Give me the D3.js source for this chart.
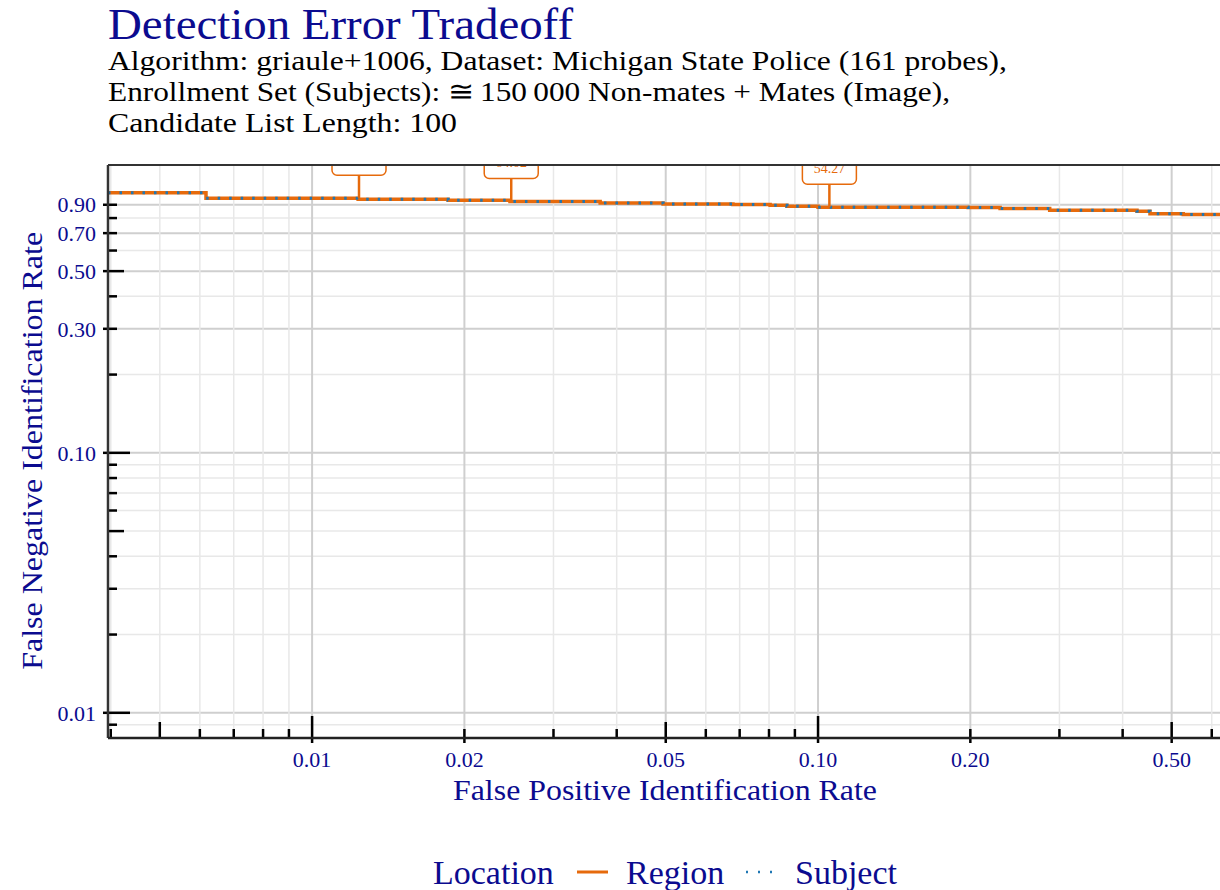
<!DOCTYPE html>
<html>
<head>
<meta charset="utf-8">
<script src="https://cdn.jsdelivr.net/npm/d3@7"></script>
<style>
  body { margin: 0; background: #fff; }
  text { font-family: "Liberation Serif", "DejaVu Serif", serif; }
</style>
</head>
<body>
<svg width="1220" height="890"></svg>
<script>
// FPIR where each step starts, and FNIR held until the next FPIR
let fpir = [0.00395, 0.00617, 0.01233, 0.01857, 0.02461, 0.0371, 0.0494, 0.0679, 0.0804, 0.0868, 0.100, 0.198, 0.229, 0.287, 0.427, 0.453, 0.527, 0.623]
let fnir = [1.0, 0.954, 0.946, 0.937, 0.927, 0.915, 0.907, 0.902, 0.897, 0.889, 0.881, 0.878, 0.870, 0.858, 0.850, 0.832, 0.825, 0.825]

// threshold labels
let thrFpir = [0.01238, 0.02475, 0.1053]
let thrFnir = [0.954, 0.927, 0.881]
let thrLabel = ["71.64", "64.02", "54.27"]

let xTicks = [0.004, 0.005, 0.006, 0.007, 0.008, 0.009, 0.01, 0.02, 0.03, 0.04, 0.05, 0.06, 0.07, 0.08, 0.09, 0.1, 0.2, 0.3, 0.4, 0.5, 0.6]
let xLabels = [0.01, 0.02, 0.05, 0.1, 0.2, 0.5]
let yTicks = [0.009, 0.01, 0.02, 0.03, 0.04, 0.05, 0.06, 0.07, 0.08, 0.09, 0.1, 0.2, 0.3, 0.4, 0.5, 0.6, 0.7, 0.8, 0.9]
let yLabels = [0.01, 0.1, 0.3, 0.5, 0.7, 0.9]

let navy = "#0b0b8f"
let orange = "#e66a0c"
let blue = "#1f77b4"

let svg = d3.select("svg")
let margin = {top: 165, right: 0, bottom: 152, left: 108}
let width = svg.attr("width") - margin.left - margin.right
let height = svg.attr("height") - margin.top - margin.bottom

let x = d3.scaleLog().domain([0.00395, 0.623]).range([0, width])
let y = d3.scaleLog().domain([0.008, 1.28]).range([height, 0])

let g = svg.append("g")
    .attr("transform", "translate(" + margin.left + "," + margin.top + ")")

svg.append("defs").append("clipPath").attr("id", "plot")
  .append("rect").attr("width", width).attr("height", height)

// size of the inner tick from the mantissa
let tickLen = v => {
  let m = Math.round(v / Math.pow(10, Math.floor(Math.log10(v) + 1e-9)))
  return m == 1 ? 22 : m == 5 ? 16 : 9
}
let isLabel = (list, v) => list.some(l => Math.abs(l - v) < 1e-9)

// grid
g.append("g").selectAll("line")
  .data(yTicks)
  .enter().append("line")
    .attr("x1", 0).attr("x2", width)
    .attr("y1", d=>y(d)).attr("y2", d=>y(d))
    .attr("stroke", d=>isLabel(yLabels, d) ? "#cfcfcf" : "#e8e8e8")
    .attr("stroke-width", d=>isLabel(yLabels, d) ? 2 : 1.5)

g.append("g").selectAll("line")
  .data(xTicks)
  .enter().append("line")
    .attr("y1", 0).attr("y2", height)
    .attr("x1", d=>x(d)).attr("x2", d=>x(d))
    .attr("stroke", d=>isLabel(xLabels, d) ? "#cfcfcf" : "#e8e8e8")
    .attr("stroke-width", d=>isLabel(xLabels, d) ? 2 : 1.5)

// curves
let pts = fpir.map((f, i) => [f, fnir[i]])
let line = d3.line().x(d=>x(d[0])).y(d=>y(d[1])).curve(d3.curveStepAfter)

let plot = g.append("g").attr("clip-path", "url(#plot)")

plot.append("path")
    .datum(pts)
    .attr("d", line)
    .attr("fill", "none")
    .attr("stroke", orange)
    .attr("stroke-width", 3.5)

plot.append("path")
    .datum(pts)
    .attr("d", line)
    .attr("fill", "none")
    .attr("stroke", blue)
    .attr("stroke-width", 3)
    .attr("stroke-dasharray", "2.5,9")

// threshold annotations
let thr = thrFpir.map((f, i) => ({f: f, n: thrFnir[i], label: thrLabel[i]}))
let ann = plot.selectAll(".thr")
  .data(thr)
  .enter().append("g")
    .attr("class", "thr")
    .attr("transform", d=>"translate(" + x(d.f) + "," + y(d.n) + ")")

ann.append("line")
    .attr("y1", 0).attr("y2", -23)
    .attr("stroke", orange).attr("stroke-width", 2.5)

ann.append("rect")
    .attr("x", -27).attr("y", -49)
    .attr("width", 54).attr("height", 26)
    .attr("rx", 5)
    .attr("fill", "#fff")
    .attr("stroke", orange).attr("stroke-width", 1.5)

ann.append("text")
    .attr("y", -34)
    .attr("text-anchor", "middle")
    .attr("fill", orange)
    .attr("font-size", 14)
    .text(d=>d.label)

// ticks
g.append("g").selectAll("line")
  .data(yTicks)
  .enter().append("line")
    .attr("x1", d=>isLabel(yLabels, d) ? -5 : 0).attr("x2", d=>tickLen(d))
    .attr("y1", d=>y(d)).attr("y2", d=>y(d))
    .attr("stroke", "#000").attr("stroke-width", 2.5)

g.append("g").selectAll("line")
  .data(xTicks)
  .enter().append("line")
    .attr("y1", d=>isLabel(xLabels, d) ? height + 5 : height).attr("y2", d=>height - tickLen(d))
    .attr("x1", d=>x(d)).attr("x2", d=>x(d))
    .attr("stroke", "#000").attr("stroke-width", 2.5)

// frame
g.append("line").attr("x1", 0).attr("x2", width).attr("y1", 0).attr("y2", 0)
    .attr("stroke", "#333").attr("stroke-width", 2)
g.append("line").attr("x1", 0).attr("x2", 0).attr("y1", 0).attr("y2", height)
    .attr("stroke", "#333").attr("stroke-width", 2.5)
g.append("line").attr("x1", 0).attr("x2", width).attr("y1", height).attr("y2", height)
    .attr("stroke", "#222").attr("stroke-width", 2.5)

// tick labels
g.append("g").selectAll("text")
  .data(yLabels)
  .enter().append("text")
    .attr("x", -12).attr("y", d=>y(d))
    .attr("dy", "0.35em")
    .attr("text-anchor", "end")
    .attr("fill", navy).attr("font-size", 22)
    .text(d=>d.toFixed(2))

g.append("g").selectAll("text")
  .data(xLabels)
  .enter().append("text")
    .attr("x", d=>x(d)).attr("y", height + 29)
    .attr("text-anchor", "middle")
    .attr("fill", navy).attr("font-size", 22)
    .text(d=>d.toFixed(2))

// axis titles
svg.append("text")
    .attr("transform", "translate(42," + (margin.top + y(0.1) - 2) + ") rotate(-90)")
    .attr("text-anchor", "middle")
    .attr("fill", navy).attr("font-size", 29)
    .attr("textLength", 438).attr("lengthAdjust", "spacingAndGlyphs")
    .text("False Negative Identification Rate")

svg.append("text")
    .attr("x", 665).attr("y", 800)
    .attr("text-anchor", "middle")
    .attr("fill", navy).attr("font-size", 29)
    .attr("textLength", 424).attr("lengthAdjust", "spacingAndGlyphs")
    .text("False Positive Identification Rate")

// titles
svg.append("text")
    .attr("x", 108).attr("y", 39)
    .attr("fill", navy).attr("font-size", 44)
    .attr("textLength", 465).attr("lengthAdjust", "spacingAndGlyphs")
    .text("Detection Error Tradeoff")

let subtitle = [
  "Algorithm: griaule+1006, Dataset: Michigan State Police (161 probes),",
  "Enrollment Set (Subjects): \u2245\u2009150\u2009000 Non-mates + Mates (Image),",
  "Candidate List Length: 100"
]
let subWidth = [899, 842, 349]
svg.append("g").selectAll("text")
  .data(subtitle)
  .enter().append("text")
    .attr("x", 108).attr("y", (d, i) => 70 + i * 31)
    .attr("fill", "#000").attr("font-size", 28)
    .attr("textLength", (d, i) => subWidth[i]).attr("lengthAdjust", "spacingAndGlyphs")
    .text(d=>d)

// legend
let leg = svg.append("g").attr("font-size", 34).attr("fill", navy)
leg.append("text").attr("x", 433).attr("y", 884).text("Location")
leg.append("line").attr("x1", 577).attr("x2", 608).attr("y1", 872).attr("y2", 872)
    .attr("stroke", orange).attr("stroke-width", 3)
leg.append("text").attr("x", 626).attr("y", 884).text("Region")
leg.append("line").attr("x1", 746).attr("x2", 774).attr("y1", 872).attr("y2", 872)
    .attr("stroke", blue).attr("stroke-width", 2.5).attr("stroke-dasharray", "2,10")
leg.append("text").attr("x", 795).attr("y", 884).text("Subject")
</script>
</body>
</html>
